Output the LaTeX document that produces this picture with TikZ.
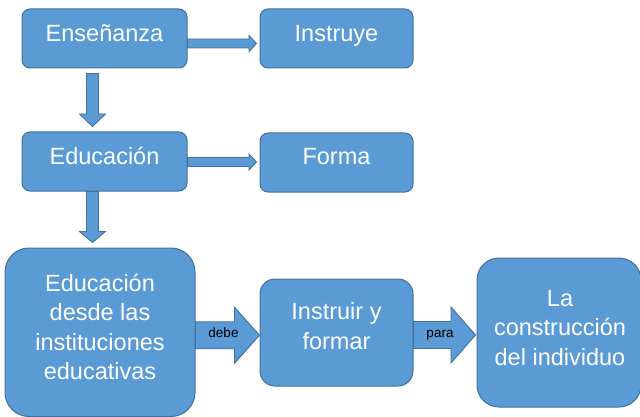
\documentclass[tikz,border=0pt]{standalone}
\usepackage{fontspec}
\setmainfont{Liberation Sans}
\usetikzlibrary{calc}
\definecolor{boxfill}{HTML}{5B9BD5}
\definecolor{boxline}{HTML}{41719C}
\tikzset{
  box/.style={draw=boxline, fill=boxfill, line width=1pt, inner sep=0pt},
  smallbox/.style={box, rounded corners=8pt, minimum height=59pt},
  txt/.style={text=white, inner sep=0pt, align=center, font=\fontsize{23.5}{29.3}\selectfont},
  lbl/.style={text=black, inner sep=0pt, font=\fontsize{13.5}{16}\selectfont},
  arr/.style={draw=boxline, fill=boxfill, line width=0.9pt, line join=miter}
}
% horizontal block arrow: #1 start, #2 tip, #3 shaft half width, #4 head half width, #5 head length
\newcommand\hblock[5]{%
  \draw[arr] let \p1=(#1), \p2=(#2) in
    (\x1,\y1+#3) -- (\x2-#5,\y1+#3) -- (\x2-#5,\y1+#4) -- (\x2,\y1)
    -- (\x2-#5,\y1-#4) -- (\x2-#5,\y1-#3) -- (\x1,\y1-#3) -- cycle;}
% vertical (downward) block arrow
\newcommand\vblock[5]{%
  \draw[arr] let \p1=(#1), \p2=(#2) in
    (\x1-#3,\y1) -- (\x1-#3,\y2+#5) -- (\x1-#4,\y2+#5) -- (\x1,\y2)
    -- (\x1+#4,\y2+#5) -- (\x1+#3,\y2+#5) -- (\x1+#3,\y1) -- cycle;}
\begin{document}
\begin{tikzpicture}[x=1pt,y=-1pt]
\useasboundingbox (0,0) rectangle (640,417);
\clip (0,0) rectangle (640,417);

% boxes
\node[smallbox, minimum width=165pt] (ens) at (104.5,38.5) {};
\node[smallbox, minimum width=153pt] (ins) at (336.5,38.5) {};
\node[smallbox, minimum width=165pt] (edu) at (104.5,161.5) {};
\node[smallbox, minimum width=153pt] (for) at (336.5,162.5) {};
\node[box, rounded corners=24pt, minimum width=190pt, minimum height=168.5pt] (big) at (100,332.25) {};
\node[box, rounded corners=15pt, minimum width=153pt, minimum height=107pt] (inf) at (336.5,332.5) {};
\node[box, rounded corners=22pt, minimum width=164pt, minimum height=149pt] (con) at (559,332.5) {};

% texts (base anchor = baseline of the last line)
\node[txt, anchor=base] (tens) at ([yshift=-3.5pt]ens.center) {Enseñanza};
\node[txt, anchor=base] (tins) at ([yshift=-3.5pt]ins.center) {Instruye};
\node[txt, anchor=base] (tedu) at ([yshift=-3pt]edu.center) {Educación};
\node[txt, anchor=base] (tfor) at ([yshift=-2pt]for.center) {Forma};
\node[txt, anchor=base] (tbig) at ([yshift=-47.25pt]big.center) {Educación\\desde las\\instituciones\\educativas};
\node[txt, anchor=base] (tinf) at ([yshift=-16.5pt]inf.center) {Instruir y\\formar};
\node[txt, anchor=base] (tcon) at ([xshift=1pt,yshift=-32.5pt]con.center) {La\\construcción\\del individuo};

% connectors
\coordinate (a1s) at ([yshift=-5pt]ens.east);
\coordinate (a1e) at ([xshift=-3pt,yshift=-5pt]ins.west);
\hblock{a1s}{a1e}{4.5pt}{8pt}{7.5pt}

\coordinate (a2s) at ([yshift=-0.5pt]edu.east);
\coordinate (a2e) at ([xshift=-3pt,yshift=-0.5pt]for.west);
\hblock{a2s}{a2e}{4.5pt}{8pt}{7.5pt}

\coordinate (d1s) at ([xshift=-12pt,yshift=-5pt]ens.south);
\coordinate (d1e) at ([xshift=-12pt,yshift=5pt]edu.north);
\vblock{d1s}{d1e}{6pt}{13pt}{12.5pt}

\coordinate (d2s) at ([xshift=-12pt]edu.south);
\coordinate (d2e) at ([xshift=-7.5pt,yshift=5pt]big.north);
\vblock{d2s}{d2e}{6pt}{13pt}{11pt}

\coordinate (h1s) at ([yshift=-3pt]big.east);
\coordinate (h1e) at ([yshift=-3pt]inf.west);
\hblock{h1s}{h1e}{13.5pt}{28pt}{25pt}

\coordinate (h2s) at ([yshift=-2.5pt]inf.east);
\coordinate (h2e) at ([xshift=-1pt,yshift=-2.5pt]con.west);
\hblock{h2s}{h2e}{13.5pt}{28pt}{24.5pt}

\node[lbl, anchor=base] (debe) at (223.5,337) {debe};
\node[lbl, anchor=base] (para) at (440,337) {para};
\end{tikzpicture}
\end{document}
